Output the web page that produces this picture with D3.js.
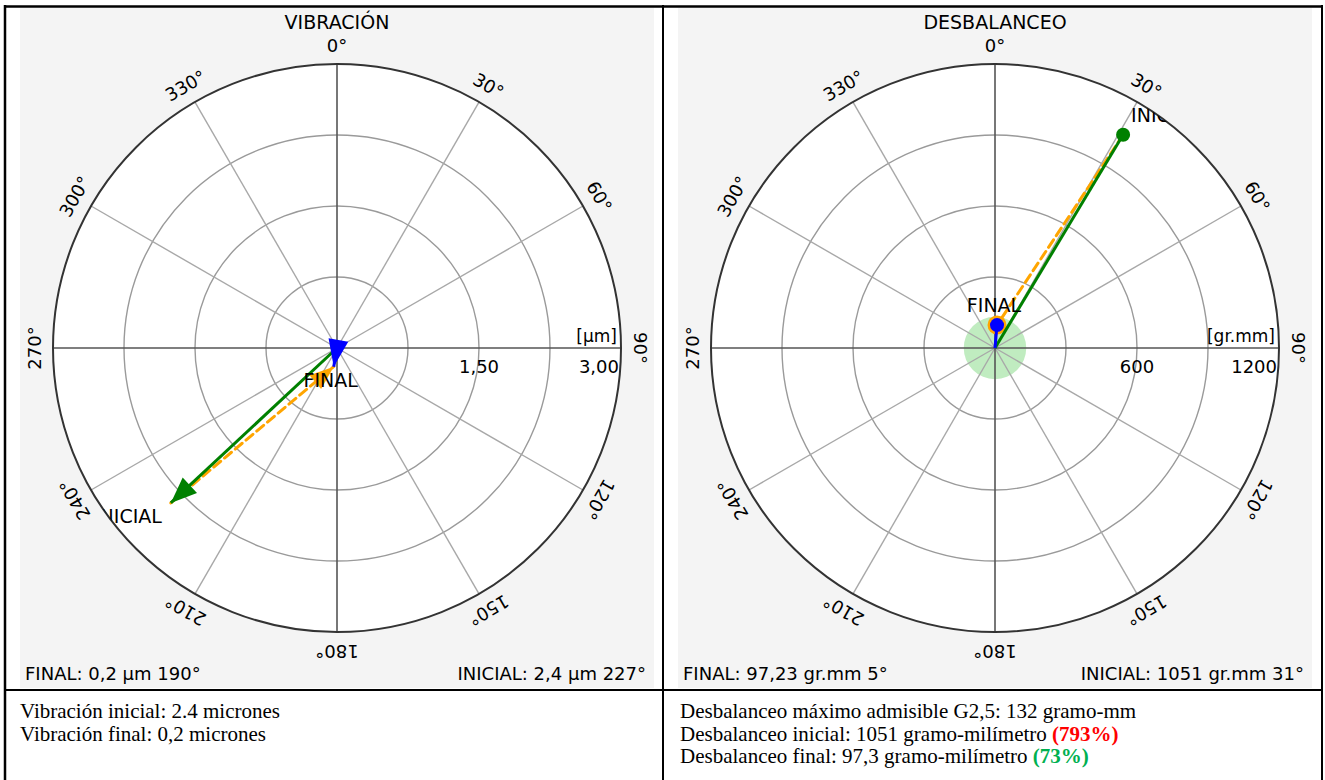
<!DOCTYPE html>
<html>
<head>
<meta charset="utf-8">
<script src="https://cdn.jsdelivr.net/npm/d3@7"></script>
<style>
  body { margin: 0; background: #fff; }
  text { font-family: "DejaVu Sans", Verdana, sans-serif; fill: #000; }
  .note { font-family: "Liberation Serif", "Times New Roman", serif; font-size: 21px; }
</style>
</head>
<body>
<div id="chart"></div>
<script>
// angle grid
const angleTicks = d3.range(0, 360, 30);

// VIBRACIÓN
const vibRings = [0.75, 1.5, 2.25, 3];
const vibTicks = [1.5, 3];
const vibTickLabels = ["1,50", "3,00"];
const vibNames = ["INICIAL", "FINAL"];
const vibValues = [2.4, 0.2];
const vibAngles = [227, 190];
const vibFooter = ["FINAL: 0,2 µm 190°", "INICIAL: 2,4 µm 227°"];
const vibNotes = ["Vibración inicial: 2.4 micrones", "Vibración final: 0,2 micrones"];

// DESBALANCEO
const unbRings = [300, 600, 900, 1200];
const unbTicks = [600, 1200];
const unbTickLabels = ["600", "1200"];
const unbNames = ["INICIAL", "FINAL"];
const unbValues = [1051, 97.23];
const unbAngles = [31, 5];
const unbTolerance = 132;
const unbFooter = ["FINAL: 97,23 gr.mm 5°", "INICIAL: 1051 gr.mm 31°"];
const unbNotes = [
  "Desbalanceo máximo admisible G2,5: 132 gramo-mm",
  "Desbalanceo inicial: 1051 gramo-milímetro ",
  "Desbalanceo final: 97,3 gramo-milímetro "
];
const unbNotePcts = ["", "(793%)", "(73%)"];
const unbNoteColors = ["", "#ff0000", "#00b050"];

const W = 1325, H = 780;
const R = 284;
const lineY = 690;

const svg = d3.select("#chart").append("svg")
  .attr("width", W).attr("height", H);

svg.append("rect").attr("width", W).attr("height", H).attr("fill", "#fff");

const colors = { ini: "#008000", fin: "#0000ff", corr: "#ffa500" };

function arrowHead(g, from, tip, color, len, hw) {
  const dx = tip[0] - from[0], dy = tip[1] - from[1];
  const d = Math.hypot(dx, dy) || 1;
  const ux = dx / d, uy = dy / d;
  const bx = tip[0] - ux * len, by = tip[1] - uy * len;
  g.append("path")
    .attr("d", `M${tip[0]},${tip[1]}L${bx - uy * hw},${by + ux * hw}L${bx + uy * hw},${by - ux * hw}Z`)
    .attr("fill", color);
}

function drawPolar(cfg) {
  const { id, cx, cy, title, unit, rings, ticks, tickLabels, names, values, angles, footer, marker, tolerance } = cfg;

  // gray image area
  svg.append("rect")
    .attr("x", cx - 317).attr("y", 8)
    .attr("width", 634).attr("height", lineY - 10)
    .attr("fill", "#f4f4f4");

  const g = svg.append("g").attr("transform", `translate(${cx},${cy})`);

  const r = d3.scaleLinear().domain([0, d3.max(rings)]).range([0, R]);
  const a = d3.scaleLinear().domain([0, 360]).range([0, 2 * Math.PI]);
  const pt = (v, ang) => d3.pointRadial(a(ang), r(v));

  svg.append("defs").append("clipPath").attr("id", id)
    .append("circle").attr("cx", cx).attr("cy", cy).attr("r", R);

  g.append("circle").attr("r", R).attr("fill", "#fff");

  if (tolerance) {
    g.append("circle").attr("r", r(tolerance))
      .attr("fill", "rgba(90,205,90,0.38)");
  }

  // rings
  g.selectAll(".ring").data(rings.slice(0, -1)).join("circle")
    .attr("r", d => r(d))
    .attr("fill", "none").attr("stroke", "#9a9a9a").attr("stroke-width", 1.4);

  // spokes
  g.selectAll(".spoke").data(angleTicks.filter(d => d % 90 !== 0)).join("line")
    .attr("x2", d => d3.pointRadial(a(d), R)[0])
    .attr("y2", d => d3.pointRadial(a(d), R)[1])
    .attr("stroke", "#a8a8a8").attr("stroke-width", 1.4);

  // main axes
  g.selectAll(".axis").data([0, 90]).join("line")
    .attr("x1", d => d3.pointRadial(a(d), R)[0])
    .attr("y1", d => d3.pointRadial(a(d), R)[1])
    .attr("x2", d => d3.pointRadial(a(d + 180), R)[0])
    .attr("y2", d => d3.pointRadial(a(d + 180), R)[1])
    .attr("stroke", "#555").attr("stroke-width", 1.6);

  g.append("circle").attr("r", R)
    .attr("fill", "none").attr("stroke", "#333").attr("stroke-width", 2);

  // radial tick labels
  g.selectAll(".tick").data(ticks).join("text")
    .attr("x", (d, i) => i === ticks.length - 1 ? r(d) - 2 : r(d))
    .attr("y", 25)
    .attr("text-anchor", (d, i) => i === ticks.length - 1 ? "end" : "middle")
    .style("font-size", "18px")
    .text((d, i) => tickLabels[i]);

  g.append("text")
    .attr("x", R - 4).attr("y", -6)
    .attr("text-anchor", "end")
    .style("font-size", "17px")
    .text(unit);

  // angle labels
  g.selectAll(".ang").data(angleTicks).join("text")
    .attr("transform", d => {
      const p = d3.pointRadial(a(d), R + 19);
      return `translate(${p[0]},${p[1]}) rotate(${d})`;
    })
    .attr("text-anchor", "middle")
    .attr("dominant-baseline", "central")
    .style("font-size", "18px")
    .text(d => d + "°");

  // title
  svg.append("text")
    .attr("x", cx).attr("y", 29)
    .attr("text-anchor", "middle")
    .style("font-size", "19px")
    .text(title);

  // series
  const s = svg.append("g").attr("clip-path", `url(#${id})`)
    .append("g").attr("transform", `translate(${cx},${cy})`);

  const ini = pt(values[0], angles[0]);
  const fin = pt(values[1], angles[1]);
  const o = [0, 0];

  // correction (orange dashed)
  s.append("line")
    .attr("x1", ini[0]).attr("y1", ini[1]).attr("x2", fin[0]).attr("y2", fin[1])
    .attr("stroke", colors.corr).attr("stroke-width", 3)
    .attr("stroke-dasharray", "9,5").attr("stroke-linecap", "round");
  if (marker === "arrow") arrowHead(s, ini, fin, colors.corr, 24, 9);
  else s.append("circle").attr("cx", fin[0]).attr("cy", fin[1]).attr("r", 9.5).attr("fill", colors.corr);

  // initial
  s.append("line")
    .attr("x2", ini[0]).attr("y2", ini[1])
    .attr("stroke", colors.ini).attr("stroke-width", 3);
  if (marker === "arrow") arrowHead(s, o, ini, colors.ini, 26, 10.5);
  else s.append("circle").attr("cx", ini[0]).attr("cy", ini[1]).attr("r", 7).attr("fill", colors.ini);

  // final
  s.append("line")
    .attr("x2", fin[0]).attr("y2", fin[1])
    .attr("stroke", colors.fin).attr("stroke-width", 3);
  if (marker === "arrow") arrowHead(s, o, fin, colors.fin, 27, 10);
  else s.append("circle").attr("cx", fin[0]).attr("cy", fin[1]).attr("r", 7).attr("fill", colors.fin);

  // point labels
  [ini, fin].forEach((p, i) => {
    const ang = a(angles[i]);
    const sn = Math.sin(ang), cs = Math.cos(ang);
    let anchor = "middle", dx = -3;
    if (sn < -0.3) { anchor = "end"; dx = -9; }
    if (sn > 0.3) { anchor = "start"; dx = 8; }
    const dy = cs < 0 ? 20 : -13;
    s.append("text")
      .attr("x", p[0] + dx).attr("y", p[1] + dy)
      .attr("text-anchor", anchor)
      .style("font-size", "19px")
      .text(names[i]);
  });

  // footer
  svg.append("text")
    .attr("x", cx - 312).attr("y", lineY - 10)
    .style("font-size", "18px")
    .text(footer[0]);
  svg.append("text")
    .attr("x", cx + 309).attr("y", lineY - 10)
    .attr("text-anchor", "end")
    .style("font-size", "18px")
    .text(footer[1]);
}

drawPolar({
  id: "clipVib", cx: 337, cy: 348, title: "VIBRACIÓN", unit: "[µm]",
  rings: vibRings, ticks: vibTicks, tickLabels: vibTickLabels,
  names: vibNames, values: vibValues, angles: vibAngles,
  footer: vibFooter, marker: "arrow"
});

drawPolar({
  id: "clipUnb", cx: 995, cy: 348, title: "DESBALANCEO", unit: "[gr.mm]",
  rings: unbRings, ticks: unbTicks, tickLabels: unbTickLabels,
  names: unbNames, values: unbValues, angles: unbAngles,
  footer: unbFooter, marker: "dot", tolerance: unbTolerance
});

// notes under the charts
const lineGap = 22.5;
svg.selectAll(".vnote").data(vibNotes).join("text")
  .attr("class", "note")
  .attr("x", 20).attr("y", (d, i) => lineY + 28 + i * lineGap)
  .text(d => d);

const un = svg.selectAll(".unote").data(unbNotes).join("text")
  .attr("class", "note")
  .attr("x", 680).attr("y", (d, i) => lineY + 28 + i * lineGap);
un.append("tspan").text(d => d);
un.append("tspan")
  .style("font-weight", "bold")
  .style("fill", (d, i) => unbNoteColors[i])
  .text((d, i) => unbNotePcts[i]);

// table borders
const border = svg.append("g").attr("stroke", "#000");
border.append("line").attr("x1", 4).attr("x2", 1323).attr("y1", 6.5).attr("y2", 6.5).attr("stroke-width", 2.5);
border.append("line").attr("x1", 5).attr("x2", 5).attr("y1", 5).attr("y2", H).attr("stroke-width", 2.5);
border.append("line").attr("x1", 1322).attr("x2", 1322).attr("y1", 5).attr("y2", H).attr("stroke-width", 2);
border.append("line").attr("x1", 663).attr("x2", 663).attr("y1", 5).attr("y2", H).attr("stroke-width", 2);
border.append("line").attr("x1", 4).attr("x2", 1323).attr("y1", lineY).attr("y2", lineY).attr("stroke-width", 2);
</script>
</body>
</html>
